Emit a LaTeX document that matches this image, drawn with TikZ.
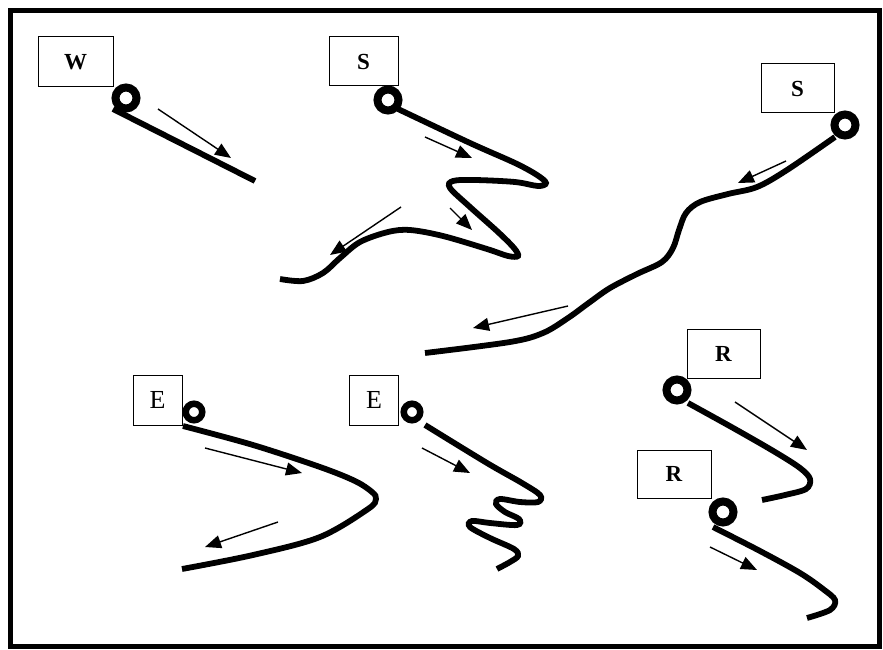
\documentclass[tikz,border=0pt]{standalone}
\usepackage{fontspec}
\setmainfont{Liberation Serif}
\usetikzlibrary{arrows.meta}
\begin{document}
\begin{tikzpicture}[x=1pt,y=-1pt,
  lbl/.style={draw,line width=1pt,inner sep=0pt,minimum width=#1,font=\fontsize{23}{23}\selectfont\bfseries},
  elbl/.style={draw,line width=1pt,inner sep=0pt,minimum width=49pt,minimum height=50pt,font=\fontsize{26}{26}\selectfont},
  ring/.style={circle,draw,line width=8pt,minimum size=21pt,inner sep=0pt},
  sring/.style={circle,draw,line width=6.5pt,minimum size=16.5pt,inner sep=0pt},
  rope/.style={line width=5.8pt},
  mv/.style={line width=1.4pt,-{Triangle[length=16pt,width=13pt]}}]
\useasboundingbox (0,0) rectangle (883,650);
\draw[line width=5pt] (10,11) rectangle (879,646);
% labels
\node[lbl=75pt,minimum height=50pt] (bW) at (75.5,62) {W};
\node[lbl=69pt,minimum height=49pt] (bS1) at (363.5,61.5) {S};
\node[lbl=73pt,minimum height=49pt] (bS2) at (797.5,88.5) {S};
\node[lbl=73pt,minimum height=49pt] (bR1) at (723.5,353.5) {R};
\node[lbl=74pt,minimum height=48pt] (bR2) at (674,474) {R};
\node[elbl] (bE1) at (157.5,400) {E};
\node[elbl] (bE2) at (374,400) {E};
% ropes
\draw[rope] (113,109) -- (255,181);
\draw[rope] plot[smooth,tension=0.55] coordinates {(398,109) (470,143) (515,163) (537,175) (546,183) (538,186) (515,182) (475,180) (453,181) (450,188) (470,207) (498,232) (514,248) (518,256) (508,256) (487,249) (443,236) (410,230) (388,232) (360,242) (340,258) (323,273) (303,281) (280,279)};
\draw[rope] plot[smooth,tension=0.55] coordinates {(835,137) (787,170) (757,187) (728,194) (700,202) (686,213) (679,230) (673,248) (662,262) (637,274) (610,288) (590,302) (568,318) (543,333) (510,342) (425,353)};
\draw[rope] plot[smooth,tension=0.55] coordinates {(183,426) (253,445) (320,467) (355,481) (372,492) (376,499) (368,509) (320,537) (253,555) (182,569)};
\draw[rope] plot[smooth,tension=0.55] coordinates {(425,425) (487,463) (522,483) (540,495) (538,502) (520,502) (500,499) (496,504) (505,512) (519,519) (517,525) (490,523) (472,521) (470,527) (490,538) (514,549) (518,556) (510,562) (497,569)};
\draw[rope] plot[smooth,tension=0.55] coordinates {(688,403) (735,429) (775,452) (800,468) (810,479) (806,489) (785,495) (762,500)};
\draw[rope] plot[smooth,tension=0.55] coordinates {(713,527) (760,551) (800,573) (823,589) (835,600) (830,610) (807,618)};
% rings
\node[ring] (cW) at (126,98) {};
\node[ring] (cS1) at (388,100) {};
\node[ring] (cS2) at (845,125) {};
\node[ring] (cR1) at (677,390) {};
\node[ring] (cR2) at (723,512) {};
\node[sring] (cE1) at (194,412) {};
\node[sring] (cE2) at (412,412) {};
% motion arrows
\coordinate (aW0) at (158,109); \coordinate (aW1) at (231,158);
\coordinate (aS0) at (425,137); \coordinate (aS1) at (472,158);
\coordinate (aT0) at (450,208); \coordinate (aT1) at (472,230);
\coordinate (aU0) at (401,207); \coordinate (aU1) at (330,255);
\coordinate (aV0) at (786,161); \coordinate (aV1) at (738,183);
\coordinate (aX0) at (568,306); \coordinate (aX1) at (473,328);
\coordinate (aE0) at (205,448); \coordinate (aE1) at (302,473);
\coordinate (aF0) at (278,522); \coordinate (aF1) at (205,547);
\coordinate (aG0) at (422,448); \coordinate (aG1) at (470,473);
\coordinate (aR0) at (735,402); \coordinate (aR1) at (807,450);
\coordinate (aQ0) at (710,547); \coordinate (aQ1) at (757,570);
\foreach \a in {W,S,T,U,V,X,E,F,G,R,Q} \draw[mv] (a\a0) -- (a\a1);
\end{tikzpicture}
\end{document}
